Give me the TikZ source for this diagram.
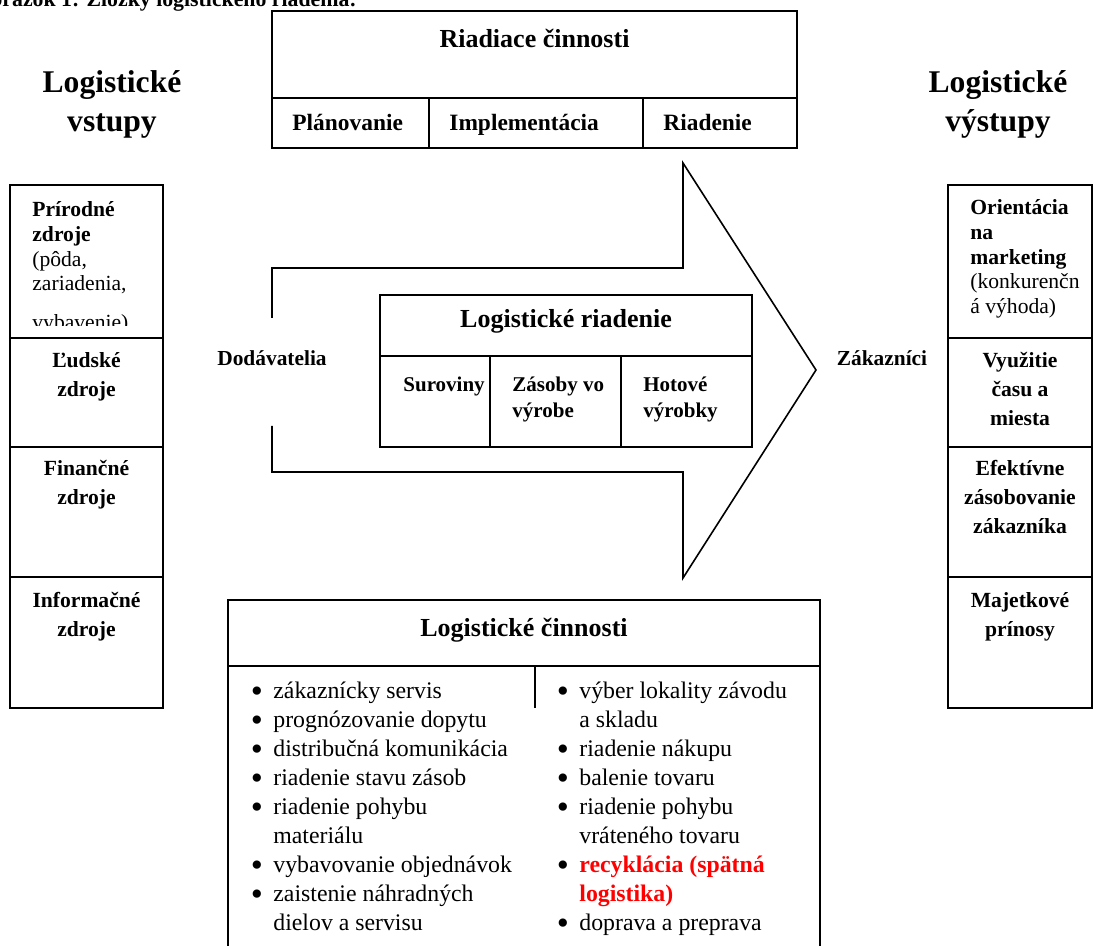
\documentclass[tikz,border=0pt]{standalone}
\usepackage{fontspec}
\usepackage{graphicx}
\setmainfont{Liberation Serif}
% bullet list helpers for the activity box
\newcommand{\bdot}{\raisebox{-2.3pt}{\scalebox{1.45}{\textbullet}}}
\newcommand{\bitem}[1]{\makebox[10.5pt][l]{\hspace*{-0.8pt}\smash{\bdot}}#1}
\newcommand{\bcont}[1]{\hspace*{10.5pt}#1}
\begin{document}
\begin{tikzpicture}[x=0.5pt,y=-0.5pt,
  frame/.style={draw=black,line width=1.1pt},
  flow/.style={draw=black,line width=0.8pt,line join=miter},
  txt/.style={inner sep=0pt,anchor=base},
  heading/.style={txt,align=center,font=\fontsize{15.8}{19.5}\selectfont\bfseries},
  boxtitle/.style={txt,font=\fontsize{13}{15}\selectfont\bfseries},
  subcell/.style={txt,anchor=base west,align=left,font=\fontsize{11.7}{14}\selectfont\bfseries},
  inner/.style={txt,anchor=base west,align=left,font=\fontsize{10.5}{13}\selectfont\bfseries},
  colcell/.style={txt,align=center,font=\fontsize{10.8}{14.5}\selectfont\bfseries},
  colfirst/.style={txt,anchor=base west,align=left,font=\fontsize{10.8}{12.3}\selectfont},
  side/.style={txt,font=\fontsize{10.7}{13}\selectfont\bfseries},
  list/.style={txt,anchor=base west,align=left,font=\fontsize{11.9}{14.5}\selectfont}]
\useasboundingbox (0,0) rectangle (1094,946);
\clip (0,0) rectangle (1094,946);
% note: multi-line nodes are placed by the baseline of their last line

% caption line
\node[txt,anchor=base west,font=\fontsize{10.9}{13}\selectfont\bfseries] (caption) at (-27,7)
  {Obrázok 1: Zložky logistického riadenia:};

% column headings
\node[heading] (inhead) at (112,132) {Logistické\\vstupy};
\node[heading] (outhead) at (998,132) {Logistické\\výstupy};

% management activities
\draw[frame] (272,11) rectangle (797,148);
\draw[frame] (272,98) -- (797,98);
\draw[frame] (429,98) -- (429,148);
\draw[frame] (643,98) -- (643,148);
\node[boxtitle] (rc) at (534.5,48) {Riadiace činnosti};
\node[subcell] (plan) at (292,131) {Plánovanie};
\node[subcell] (impl) at (449,131) {Implementácia};
\node[subcell] (ctrl) at (663,131) {Riadenie};

% big flow arrow
\draw[flow] (272,318) -- (272,268) -- (683,268) -- (683,163) -- (816,370)
  -- (683,578) -- (683,472) -- (272,472) -- (272,426);
\node[side] (supp) at (272,366) {Dodávatelia};
\node[side] (cust) at (882,366) {Zákazníci};

% logistics management
\draw[frame] (380,295) rectangle (752,447);
\draw[frame] (380,356) -- (752,356);
\draw[frame] (490,356) -- (490,447);
\draw[frame] (621,356) -- (621,447);
\node[boxtitle] (lr) at (566,328) {Logistické riadenie};
\node[inner] (raw) at (403,392) {Suroviny};
\node[inner] (wip) at (512,418) {Zásoby vo\\výrobe};
\node[inner] (fin) at (643,418) {Hotové\\výrobky};

% inputs
\draw[frame] (10,185) rectangle (163,708);
\draw[frame] (10,338) -- (163,338);
\draw[frame] (10,447) -- (163,447);
\draw[frame] (10,577) -- (163,577);
\begin{scope}
  \clip (10,185) rectangle (163,326);
  \node[colfirst] (nat) at (32,329.4)
    {\textbf{Prírodné}\\\textbf{zdroje}\\(pôda,\\zariadenia,\\[7pt]vybavenie)};
\end{scope}
\node[colcell] (hum) at (86.5,397) {Ľudské\\zdroje};
\node[colcell] (money) at (86.5,505) {Finančné\\zdroje};
\node[colcell] (info) at (86.5,637) {Informačné\\zdroje};

% outputs
\draw[frame] (948,185) rectangle (1092,708);
\draw[frame] (948,338) -- (1092,338);
\draw[frame] (948,447) -- (1092,447);
\draw[frame] (948,577) -- (1092,577);
\node[colfirst] (mkt) at (970,313.4)
  {\textbf{Orientácia}\\\textbf{na}\\\textbf{marketing}\\(konkurenčn\\á výhoda)};
\node[colcell] (time) at (1020,426) {Využitie\\času a\\miesta};
\node[colcell] (supply) at (1020,534) {Efektívne\\zásobovanie\\zákazníka};
\node[colcell] (assets) at (1020,637) {Majetkové\\prínosy};

% logistics activities
\draw[frame] (228,960) -- (228,600) -- (820,600) -- (820,960);
\draw[frame] (228,666) -- (820,666);
\draw[frame] (535,666) -- (535,708);
\node[boxtitle] (lc) at (524,637) {Logistické činnosti};
\node[list] (acts1) at (252,930)
  {\bitem{zákaznícky servis}\\
   \bitem{prognózovanie dopytu}\\
   \bitem{distribučná komunikácia}\\
   \bitem{riadenie stavu zásob}\\
   \bitem{riadenie pohybu}\\
   \bcont{materiálu}\\
   \bitem{vybavovanie objednávok}\\
   \bitem{zaistenie náhradných}\\
   \bcont{dielov a servisu}};
\node[list] (acts2) at (558,930)
  {\bitem{výber lokality závodu}\\
   \bcont{a skladu}\\
   \bitem{riadenie nákupu}\\
   \bitem{balenie tovaru}\\
   \bitem{riadenie pohybu}\\
   \bcont{vráteného tovaru}\\
   \bitem{\textcolor{red}{\textbf{recyklácia (spätná}}}\\
   \bcont{\textcolor{red}{\textbf{logistika)}}}\\
   \bitem{doprava a preprava}};
\end{tikzpicture}
\end{document}
